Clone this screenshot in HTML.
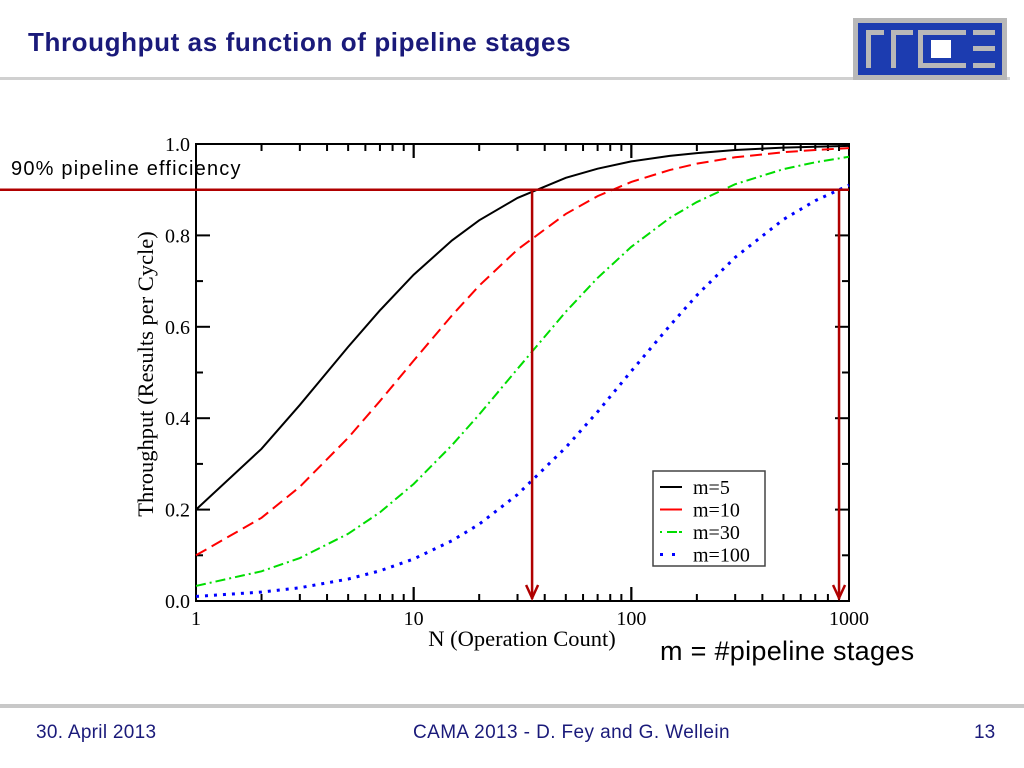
<!DOCTYPE html>
<html><head><meta charset="utf-8"><style>
body{margin:0;width:1024px;height:768px;background:#fff;overflow:hidden;position:relative;font-family:"Liberation Sans",sans-serif}
.abs{position:absolute;white-space:nowrap}
</style></head><body>
<div class="abs" style="left:28px;top:27px;font-size:26px;letter-spacing:0.6px;font-weight:bold;color:#1a1a7a">Throughput as function of pipeline stages</div>
<div class="abs" style="left:0;top:77px;width:1010px;height:3px;background:#d0d0d0"></div>
<svg class="abs" style="left:853px;top:18px" width="154" height="62" viewBox="0 0 154 62">
<rect x="0" y="0" width="154" height="62" fill="#b8b8b8"/>
<rect x="5" y="5" width="144" height="52" fill="#1c3cb0"/>
<g fill="#b8b8b8">
<rect x="13" y="12" width="5" height="38"/><rect x="13" y="12" width="18" height="5"/>
<rect x="38" y="12" width="5" height="38"/><rect x="38" y="12" width="22" height="5"/>
<rect x="65" y="12" width="5" height="38"/><rect x="65" y="12" width="48" height="5"/><rect x="65" y="45" width="48" height="5"/>
<rect x="120" y="12" width="22" height="5"/><rect x="120" y="28" width="22" height="5"/><rect x="120" y="45" width="22" height="5"/>
</g>
<rect x="78" y="22" width="20" height="18" fill="#fff"/>
</svg>
<svg class="abs" style="left:0;top:0" width="1024" height="700" id="chart"></svg>
<div class="abs" style="left:11px;top:158px;font-size:20px;letter-spacing:1.2px;color:#000">90% pipeline efficiency</div>
<div class="abs" style="left:660px;top:636px;font-size:27px;letter-spacing:0.3px;color:#000">m = #pipeline stages</div>
<div class="abs" style="left:0;top:704px;width:1024px;height:4px;background:#c8c8c8"></div>
<div class="abs" style="left:36px;top:722px;font-size:19px;letter-spacing:0.3px;color:#1a1a7a">30. April 2013</div>
<div class="abs" style="left:413px;top:722px;font-size:19px;letter-spacing:0.4px;color:#1a1a7a">CAMA 2013 - D. Fey and G. Wellein</div>
<div class="abs" style="left:974px;top:722px;font-size:19px;color:#1a1a7a">13</div>
<script>
const nValues=[1,2,3,5,7,10,15,20,30,50,70,100,150,200,300,500,700,1000];
const seriesM5=[0.2,0.333,0.429,0.556,0.636,0.714,0.789,0.833,0.882,0.926,0.946,0.962,0.974,0.980,0.987,0.992,0.994,0.996];
const seriesM10=[0.1,0.182,0.25,0.357,0.4375,0.526,0.625,0.690,0.769,0.847,0.886,0.917,0.943,0.957,0.971,0.982,0.987,0.991];
const seriesM30=[0.033,0.065,0.094,0.147,0.194,0.256,0.341,0.408,0.508,0.633,0.707,0.775,0.838,0.873,0.912,0.945,0.960,0.972];
const seriesM100=[0.01,0.0196,0.029,0.048,0.066,0.092,0.132,0.168,0.233,0.336,0.414,0.503,0.602,0.669,0.752,0.835,0.876,0.910];
const yTicks=[0,0.2,0.4,0.6,0.8,1.0];
const yTickLabels=["0.0","0.2","0.4","0.6","0.8","1.0"];
const xTicks=[1,10,100,1000];
const xTickLabels=["1","10","100","1000"];
const efficiencyLevel=0.9;
const arrowN=[35,900];
const L=196,R=849,T=144,B=601;
const sx=n=>L+(Math.log10(n))/3*(R-L);
const sy=v=>B-v*(B-T);
const svg=document.getElementById('chart');
const NS='http://www.w3.org/2000/svg';
function mk(tag,attrs,parent){const e=document.createElementNS(NS,tag);for(const k in attrs)e.setAttribute(k,attrs[k]);(parent||svg).appendChild(e);return e;}
const frame=mk('rect',{x:L,y:T,width:R-L,height:B-T,fill:'none',stroke:'#000','stroke-width':2});


for(let d=0;d<3;d++){for(let k=1;k<=10;k++){const n=k*Math.pow(10,d);const x=sx(n);const len=(k===1||k===10)?14:7;
mk('line',{x1:x,y1:B,x2:x,y2:B-len,stroke:'#000','stroke-width':2});
mk('line',{x1:x,y1:T,x2:x,y2:T+len,stroke:'#000','stroke-width':2});}}
for(let i=0;i<=10;i++){const v=i/10;const y=sy(v);const len=i%2===0?14:7;
mk('line',{x1:L,y1:y,x2:L+len,y2:y,stroke:'#000','stroke-width':2});
mk('line',{x1:R,y1:y,x2:R-len,y2:y,stroke:'#000','stroke-width':2});}
xTicks.forEach((n,i)=>{const t=mk('text',{x:sx(n),y:B+24,'text-anchor':'middle','font-family':'Liberation Serif, serif','font-size':20});t.textContent=xTickLabels[i];

});
yTicks.forEach((v,i)=>{const t=mk('text',{x:L-6,y:sy(v)+7,'text-anchor':'end','font-family':'Liberation Serif, serif','font-size':20});t.textContent=yTickLabels[i];

});
const xt=mk('text',{x:522,y:646,'text-anchor':'middle','font-family':'Liberation Serif, serif','font-size':22.5});xt.textContent='N (Operation Count)';


const yt=mk('text',{x:0,y:0,'text-anchor':'middle','font-family':'Liberation Serif, serif','font-size':22.5,transform:'translate(153,374) rotate(-90)'});yt.textContent='Throughput (Results per Cycle)';


const series=[[seriesM5,'#000','none','m=5','series-m5'],[seriesM10,'#f00','12 6','m=10','series-m10'],[seriesM30,'#0d0','10 4 2 4','m=30','series-m30'],[seriesM100,'#00f','3 6','m=100','series-m100']];
series.forEach(s=>{const p=mk('polyline',{points:nValues.map((n,i)=>sx(n)+','+sy(s[0][i])).join(' '),fill:'none',stroke:s[1],'stroke-width':s[4]==='series-m100'?3:2,'stroke-dasharray':s[2]});

});
const lg=mk('g',{});


mk('rect',{x:653,y:471,width:112,height:95,fill:'#fff',stroke:'#444','stroke-width':1.5},lg);
series.forEach((s,i)=>{const y=487+i*22.5;mk('line',{x1:660,y1:y,x2:682,y2:y,stroke:s[1],'stroke-width':s[4]==='series-m100'?3:2,'stroke-dasharray':s[2]==='none'?'none':(i===1?'22':(i===2?'2 5 10':'3 9'))},lg);
const t=mk('text',{x:693,y:y+7,'font-family':'Liberation Serif, serif','font-size':20},lg);t.textContent=s[3];

});
const hl=mk('line',{x1:0,y1:sy(efficiencyLevel),x2:R,y2:sy(efficiencyLevel),stroke:'#b00000','stroke-width':2.5});


arrowN.forEach(n=>{const x=sx(n);const g=mk('g',{stroke:'#b00000','stroke-width':2.5,fill:'none'});


mk('line',{x1:x,y1:sy(efficiencyLevel),x2:x,y2:B-2},g);
mk('polyline',{points:(x-6)+','+(B-16)+' '+x+','+(B-3)+' '+(x+6)+','+(B-16)},g);});
</script>
</body></html>
